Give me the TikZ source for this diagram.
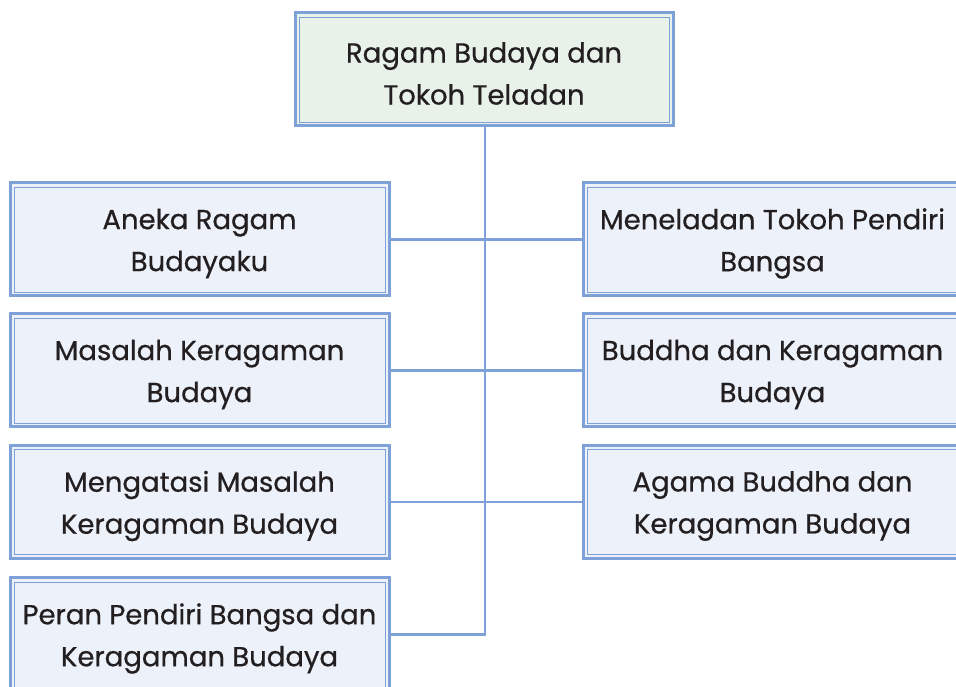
\documentclass[tikz,border=0pt]{standalone}
\usepackage{fontspec}
\setmainfont{Poppins}
\newfontfamily\boxfont{Poppins}[FakeBold=0.6]
\definecolor{bordblue}{HTML}{7EA2D8}
\definecolor{boxfill}{HTML}{EDF1FA}
\definecolor{topfill}{HTML}{E8F2E8}
\definecolor{txt}{HTML}{231F20}
\begin{document}
\begin{tikzpicture}[x=1pt,y=1pt,
  topicbox/.style={draw=bordblue, line width=3pt, fill=boxfill, minimum width=379pt, minimum height=113pt,
    inner sep=0pt,
    path picture={\draw[bordblue, line width=0.9pt]
      ([shift={(4pt,4pt)}]path picture bounding box.south west) rectangle
      ([shift={(-4pt,-4pt)}]path picture bounding box.north east);}},
  rootbox/.style={topicbox, fill=topfill, minimum width=378pt},
  boxtext/.style={inner sep=0pt, align=center, text=txt, font=\boxfont\fontsize{27.5}{42}\selectfont},
  link/.style={draw=bordblue, line width=2.4pt}]
\useasboundingbox (0,0) rectangle (956,687);
\clip (0,0) rectangle (956,687);
\fill[white] (0,0) rectangle (956,687);
\node[rootbox] (root) at (484,617.5) {};
\node[topicbox] (l1) at (199.5,447.5) {};
\node[topicbox] (l2) at (199.5,316.5) {};
\node[topicbox] (l3) at (199.5,185) {};
\node[topicbox] (l4) at (199.5,52.5) {};
\node[topicbox] (r1) at (772.5,447.5) {};
\node[topicbox] (r2) at (772.5,316.5) {};
\node[topicbox] (r3) at (772.5,185) {};
\node[boxtext] (troot) at ([yshift=-4pt]root.center) {Ragam Budaya dan\\Tokoh Teladan};
\node[boxtext] (tl1) at ([yshift=-4pt]l1.center) {Aneka Ragam\\Budayaku};
\node[boxtext] (tl2) at ([yshift=-4pt]l2.center) {Masalah Keragaman\\Budaya};
\node[boxtext] (tl3) at ([yshift=-4pt]l3.center) {Mengatasi Masalah\\Keragaman Budaya};
\node[boxtext] (tl4) at ([yshift=-4pt]l4.center) {Peran Pendiri Bangsa dan\\Keragaman Budaya};
\node[boxtext] (tr1) at ([yshift=-4pt]r1.center) {Meneladan Tokoh Pendiri\\Bangsa};
\node[boxtext] (tr2) at ([yshift=-4pt]r2.center) {Buddha dan Keragaman\\Budaya};
\node[boxtext] (tr3) at ([yshift=-4pt]r3.center) {Agama Buddha dan\\Keragaman Budaya};
\coordinate (trunkend) at (485,52.5);
\draw[link] (root.south -| trunkend) -- (trunkend) -- (l4.east);
\draw[link] (l1.east) -- (r1.west);
\draw[link] (l2.east) -- (r2.west);
\draw[link] (l3.east) -- (r3.west);
\end{tikzpicture}
\end{document}
